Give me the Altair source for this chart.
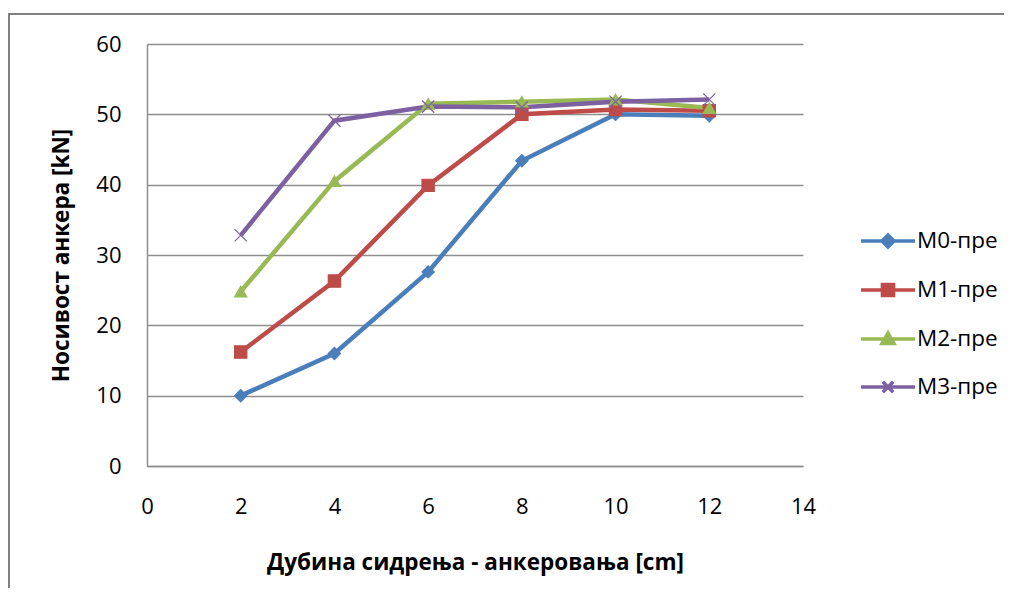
import altair as alt
import pandas as pd

depth = [2, 4, 6, 8, 10, 12]
series_names = ["M0-пре", "M1-пре", "M2-пре", "M3-пре"]
m0 = [10.0, 16.0, 27.6, 43.4, 50.0, 49.8]
m1 = [16.2, 26.3, 39.9, 50.0, 50.7, 50.5]
m2 = [24.8, 40.5, 51.5, 51.8, 52.1, 50.9]
m3 = [32.8, 49.1, 51.1, 51.0, 51.8, 52.1]
colors = ["#4A7EBB", "#BE4B48", "#98B954", "#7D60A0"]

rows = []
for name, vals in zip(series_names, [m0, m1, m2, m3]):
    for x, v in zip(depth, vals):
        rows.append({"depth": x, "value": v, "series": name})
df = pd.DataFrame(rows)

FONT = "Open Sans"
GRID = "#8E8E8E"

X_PATH = "M-1,-1L1,1M-1,1L1,-1"
plot_shapes = ["diamond", "square", "triangle-up", X_PATH]

leg_paths = {
    "M0-пре": "M-1.8,0L1.8,0M0,-0.4L0.4,0L0,0.4L-0.4,0Z",
    "M1-пре": "M-1.8,0L1.8,0M-0.37,-0.37L0.37,-0.37L0.37,0.37L-0.37,0.37Z",
    "M2-пре": "M-1.8,0L1.8,0M0,-0.4L0.4,0.3L-0.4,0.3Z",
    "M3-пре": "M-1.8,0L1.8,0M-0.35,-0.35L0.35,0.35M-0.35,0.35L0.35,-0.35",
}
shape_sig = " : ".join(
    f"datum.value === '{k}' ? '{p}'" for k, p in leg_paths.items()
) + " : 'circle'"

color_scale = alt.Scale(domain=series_names, range=colors)

x_enc = alt.X(
    "depth:Q",
    scale=alt.Scale(domain=[0, 14], nice=False),
    axis=alt.Axis(
        values=[0, 2, 4, 6, 8, 10, 12, 14],
        title="Дубина сидрења - анкеровања [cm]",
        grid=False, ticks=False, domain=True, domainColor=GRID, domainWidth=1.5,
        labelPadding=30, titlePadding=34, labelFlush=False,
    ),
)
y_enc = alt.Y(
    "value:Q",
    scale=alt.Scale(domain=[0, 60], nice=False),
    axis=alt.Axis(
        values=[0, 10, 20, 30, 40, 50, 60],
        title="Носивост анкера [kN]",
        grid=True, gridColor=GRID, gridWidth=1.3, ticks=False,
        domain=True, domainColor=GRID, domainWidth=1.5,
        labelPadding=26, titlePadding=22, labelFlush=False,
    ),
)

lines = alt.Chart(df).mark_line(strokeWidth=4.5).encode(
    x=x_enc,
    y=y_enc,
    color=alt.Color(
        "series:N",
        scale=color_scale,
        legend=alt.Legend(
            title=None,
            orient="none",
            legendX=724,
            legendY=180,
            symbolSize=900,
            symbolStrokeWidth=3.5,
            symbolType={"expr": shape_sig},
            symbolFillColor={"expr": "scale('color', datum.value)"},
            symbolStrokeColor={"expr": "scale('color', datum.value)"},
            symbolOpacity=1,
            rowPadding=19,
            labelOffset=12,
            labelFontSize=22.5,
            labelFont=FONT,
            labelColor="#000000",
            padding=0,
        ),
    ),
    order="depth:Q",
)

point_layers = []
for name, col, shp in zip(series_names, colors, plot_shapes):
    point_layers.append(
        alt.Chart(df)
        .transform_filter(alt.datum.series == name)
        .mark_point(filled=True, size=150, strokeWidth=1.2, opacity=1,
                    shape=shp, fill=col, stroke=col)
        .encode(x="depth:Q", y="value:Q")
    )

border_df = pd.DataFrame({"k": [0]})
border_left = alt.Chart(border_df).mark_rule(color="#808080", strokeWidth=2).encode(
    x=alt.value(-138), y=alt.value(-30), y2=alt.value(600)
)
border_top = alt.Chart(border_df).mark_rule(color="#808080", strokeWidth=2).encode(
    x=alt.value(-139), x2=alt.value(900), y=alt.value(-30)
)

chart = (
    alt.layer(border_left, border_top, lines, *point_layers)
    .properties(
        width=656,
        height=422,
        autosize=alt.AutoSizeParams(type="none"),
        padding={"left": 139, "top": 36, "right": 201, "bottom": 122},
    )
    .configure_view(stroke=None)
    .configure_axis(
        labelFont=FONT, titleFont=FONT, labelFontSize=22, titleFontSize=22.5,
        labelColor="#000000", titleColor="#000000", titleFontWeight="bold",
    )
)

chart.save("out.html", embed_options={"renderer": "svg", "actions": False})
